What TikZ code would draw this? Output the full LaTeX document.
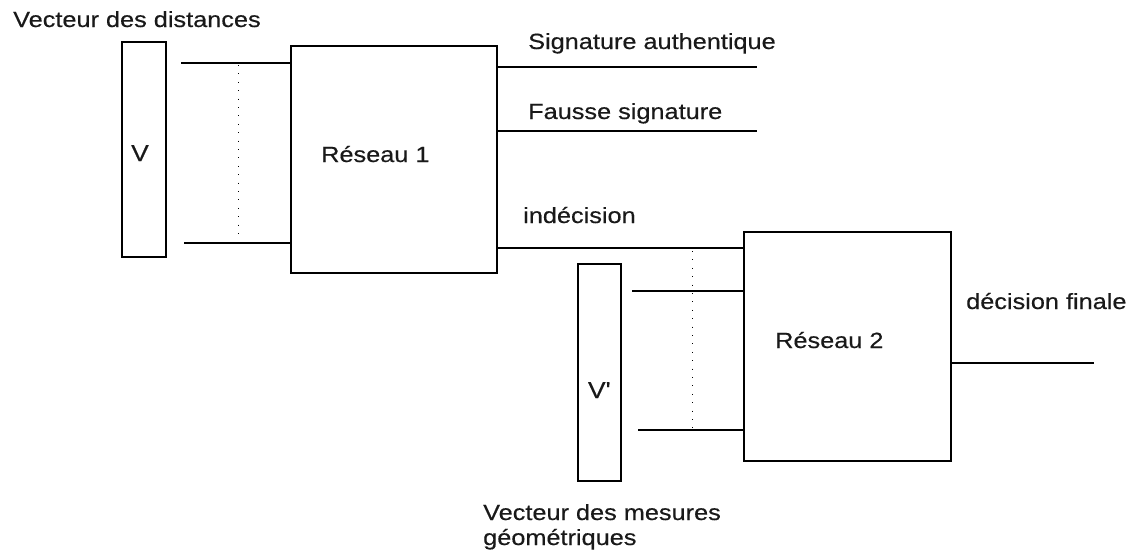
\documentclass[tikz,border=0pt]{standalone}
\usepackage{fontspec}
\setmainfont{Liberation Sans}[FakeStretch=1.15,FakeBold=0.4]
\begin{document}
\begin{tikzpicture}[x=1pt,y=-1pt,
  box/.style={draw, line width=1.2pt, rectangle, inner sep=0pt, outer sep=0pt},
  wire/.style={line width=1.3pt},
  dots/.style={line width=1pt, dash pattern=on 0.9pt off 7.5pt},
  lbl/.style={anchor=base west, inner sep=0pt, font=\fontsize{22}{26}\selectfont, text=black!90},
  vlbl/.style={anchor=base, inner sep=0pt, font=\fontsize{23}{26}\selectfont, text=black!90}]
\useasboundingbox (0,0) rectangle (1146,555);
% boxes
\node[box, minimum width=44pt, minimum height=215pt] (V) at (144,149.5) {};
\node[box, minimum width=206pt, minimum height=227pt] (R1) at (394,159.5) {};
\node[box, minimum width=207pt, minimum height=229pt] (R2) at (847.5,346.5) {};
\node[box, minimum width=43pt, minimum height=217pt] (Vp) at (599.5,372.5) {};
% labels
\node[lbl] (tdist) at (13,27) {Vecteur des distances};
\node[vlbl] (tV) at (140,161) {V};
\node[lbl] (tR1) at (321,162) {Réseau 1};
\node[lbl] (tsa) at (528,49) {Signature authentique};
\node[lbl] (tfs) at (528,119) {Fausse signature};
\node[lbl] (tind) at (523,223) {indécision};
\node[lbl] (tR2) at (775,348) {Réseau 2};
\node[vlbl] (tVp) at (599,398) {V\XeTeXglyph\XeTeXglyphindex "quotesingle"\relax};
\node[lbl] (tfin) at (966,309) {décision finale};
\node[lbl] (tmes) at (483,520) {Vecteur des mesures};
\node[lbl] (tgeo) at (483,545) {géométriques};
% free ends
\coordinate (vt) at (181,63);
\coordinate (vb) at (184,243);
\coordinate (d1t) at (238,65);
\coordinate (d1b) at (238,240);
\coordinate (sa) at (757,67);
\coordinate (fs) at (757,131);
\coordinate (ind) at (600,248);
\coordinate (vpt) at (632,291);
\coordinate (vpb) at (638,430);
\coordinate (d2t) at (692,251);
\coordinate (d2b) at (692,428);
\coordinate (out) at (1094,363);
% connectors
\draw[wire] (vt) -- (vt -| R1.west);
\draw[wire] (vb) -- (vb -| R1.west);
\draw[dots] (d1t) -- (d1b);
\draw[wire] (sa -| R1.east) -- (sa);
\draw[wire] (fs -| R1.east) -- (fs);
\draw[wire] (ind -| R1.east) -- (ind -| R2.west);
\draw[wire] (vpt) -- (vpt -| R2.west);
\draw[wire] (vpb) -- (vpb -| R2.west);
\draw[dots] (d2t) -- (d2b);
\draw[wire] (out -| R2.east) -- (out);
\end{tikzpicture}
\end{document}
